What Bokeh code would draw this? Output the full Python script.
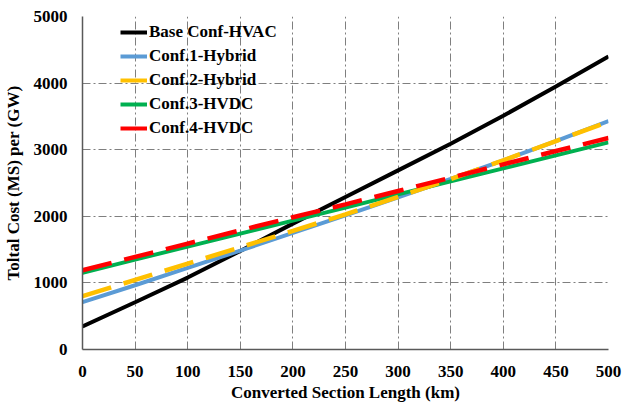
from bokeh.plotting import figure
from bokeh.models import Legend, LegendItem, Range1d, FixedTicker
from bokeh.embed import file_html
from bokeh.resources import INLINE

length_km = [0, 50, 100, 150, 200, 250, 300, 350, 400, 450, 500]
base_hvac = [345, 710, 1080, 1480, 1890, 2290, 2690, 3090, 3510, 3950, 4400]
conf1_hybrid = [710, 965, 1225, 1485, 1750, 2015, 2285, 2560, 2840, 3130, 3430]
conf2_hybrid = [800, 1045, 1290, 1535, 1780, 2030, 2290, 2560, 2840, 3130, 3420]
conf3_hvdc = [1150, 1350, 1545, 1740, 1935, 2130, 2330, 2525, 2720, 2915, 3110]
conf4_hvdc = [1190, 1390, 1590, 1790, 1985, 2180, 2380, 2580, 2780, 2980, 3175]

names = ["Base Conf-HVAC", "Conf.1-Hybrid", "Conf.2-Hybrid", "Conf.3-HVDC", "Conf.4-HVDC"]
x_ticks = [0, 50, 100, 150, 200, 250, 300, 350, 400, 450, 500]
y_ticks = [0, 1000, 2000, 3000, 4000, 5000]

FONT = "Liberation Serif"

p = figure(width=622, height=404, output_backend="svg", toolbar_location=None,
           x_range=Range1d(0, 500), y_range=Range1d(0, 5000),
           min_border_left=82, min_border_right=14, min_border_top=16, min_border_bottom=55)
p.outline_line_color = None
p.background_fill_color = "white"

for ax in (p.xaxis[0], p.yaxis[0]):
    ax.major_label_text_font = FONT
    ax.major_label_text_font_style = "bold"
    ax.major_label_text_font_size = "17px"
    ax.major_label_text_color = "black"
    ax.axis_label_text_font = FONT
    ax.axis_label_text_font_style = "bold"
    ax.axis_label_text_font_size = "17px"
    ax.axis_label_text_color = "black"
    ax.major_tick_line_color = None
    ax.minor_tick_line_color = None
    ax.axis_line_color = "#595959"
    ax.axis_line_width = 1.5

p.xaxis[0].ticker = FixedTicker(ticks=x_ticks)
p.yaxis[0].ticker = FixedTicker(ticks=y_ticks)
p.xaxis[0].axis_label = "Converted Section Length (km)"
p.yaxis[0].axis_label = "Toltal Cost (MS) per (GW)"
p.xaxis[0].major_label_standoff = 10
p.yaxis[0].major_label_standoff = 9
p.xaxis[0].axis_label_standoff = 3
p.yaxis[0].axis_label_standoff = 8

for g in (p.xgrid[0], p.ygrid[0]):
    g.grid_line_color = "#7f7f7f"
    g.grid_line_width = 1
    g.grid_line_dash = "8 3 2 3"
p.xgrid[0].ticker = FixedTicker(ticks=x_ticks)
p.ygrid[0].ticker = FixedTicker(ticks=y_ticks)

colors = ["#000000", "#5B9BD5", "#FFC000", "#00B050", "#FF0000"]
series = [base_hvac, conf1_hybrid, conf2_hybrid, conf3_hvdc, conf4_hvdc]
dashes = ["solid", "solid", "30 13", "solid", "30 13"]
widths = [4, 4, 4.5, 4, 4.5]
order = [0, 1, 3, 2, 4]
for i in order:
    p.line(length_km, series[i], line_color=colors[i], line_width=widths[i], line_dash=dashes[i])

# solid legend swatches (the plotted series use dashes); drawn outside the visible range
items = []
for i in range(5):
    r = p.line([-100, -90], [-1000, -1000], line_color=colors[i], line_width=4)
    items.append(LegendItem(label=names[i], renderers=[r]))

legend = Legend(items=items, location=(38, 211), margin=0, padding=0,
                background_fill_alpha=0, border_line_alpha=0,
                label_text_font=FONT, label_text_font_style="bold",
                label_text_font_size="17px", label_text_color="black",
                glyph_width=27, glyph_height=20, label_height=20,
                spacing=4, label_standoff=2)
p.add_layout(legend)

open("out.html", "w").write(file_html(p, INLINE))
